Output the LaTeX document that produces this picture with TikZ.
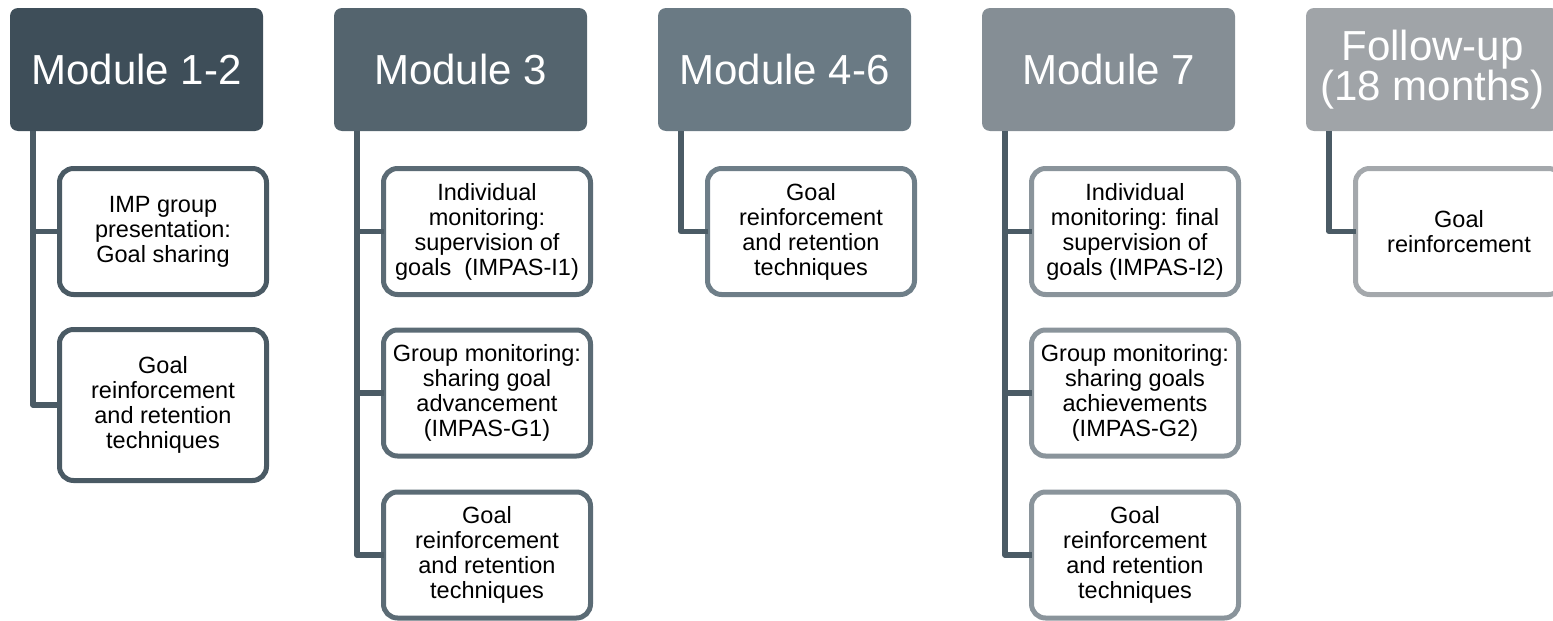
\documentclass[tikz,border=0pt]{standalone}
\usepackage{fontspec}
\setmainfont{Liberation Sans}
\begin{document}
\begin{tikzpicture}[x=1pt,y=-1pt,
  head/.style={rounded corners=8pt, inner sep=0pt, outer sep=0pt,
    minimum width=253pt, minimum height=123pt, text=white, align=center,
    font=\fontsize{42}{40}\selectfont},
  sub/.style={draw, fill=white, line width=5pt, rounded corners=14pt,
    inner sep=0pt, outer sep=0pt, minimum width=207pt, minimum height=126pt,
    text=black, align=center, font=\fontsize{23.5}{25}\selectfont},
  link/.style={draw=linkc, line width=5.5pt, line join=round}]
\definecolor{hA}{HTML}{3E4E59}
\definecolor{hB}{HTML}{54646E}
\definecolor{hC}{HTML}{6A7A84}
\definecolor{hD}{HTML}{858E95}
\definecolor{hE}{HTML}{A0A4A8}
\definecolor{bA}{HTML}{4A5A64}
\definecolor{bB}{HTML}{5B6B75}
\definecolor{bC}{HTML}{6E7E88}
\definecolor{bD}{HTML}{8A949B}
\definecolor{bE}{HTML}{A4A8AC}
\definecolor{linkc}{HTML}{4B5B65}
\useasboundingbox (0,0) rectangle (1553,621);
\clip (0,0) rectangle (1553,621);

% Module 1-2
\node[head, fill=hA] (h1) at (136.5,69.5) {Module 1-2};
\node[sub, draw=bA] (c11) at (163,231.5) {IMP group\\presentation:\\Goal sharing};
\node[sub, draw=bA, minimum height=151pt] (c12) at (163,405) {Goal\\reinforcement\\and retention\\techniques};
\draw[link] ([xshift=23pt]h1.south west) |- (c12.west);
\draw[link] ([xshift=23pt]h1.south west |- c11.west) -- (c11.west);

% Module 3
\node[head, fill=hB] (h2) at (460.5,69.5) {Module 3};
\node[sub, draw=bB] (c21) at (487,231.5) {Individual\\monitoring:\\supervision of\\goals\ \ (IMPAS-I1)};
\node[sub, draw=bB] (c22) at (487,393) {Group monitoring:\\sharing goal\\advancement\\(IMPAS-G1)};
\node[sub, draw=bB] (c23) at (487,555) {Goal\\reinforcement\\and retention\\techniques};
\draw[link] ([xshift=23pt]h2.south west) |- (c23.west);
\draw[link] ([xshift=23pt]h2.south west |- c21.west) -- (c21.west);
\draw[link] ([xshift=23pt]h2.south west |- c22.west) -- (c22.west);

% Module 4-6
\node[head, fill=hC] (h3) at (784.5,69.5) {Module 4-6};
\node[sub, draw=bC] (c31) at (811,231.5) {Goal\\reinforcement\\and retention\\techniques};
\draw[link] ([xshift=23pt]h3.south west) |- (c31.west);

% Module 7
\node[head, fill=hD] (h4) at (1108.5,69.5) {Module 7};
\node[sub, draw=bD] (c41) at (1135,231.5) {Individual\\monitoring: final\\supervision of\\goals (IMPAS-I2)};
\node[sub, draw=bD] (c42) at (1135,393) {Group monitoring:\\sharing goals\\achievements\\(IMPAS-G2)};
\node[sub, draw=bD] (c43) at (1135,555) {Goal\\reinforcement\\and retention\\techniques};
\draw[link] ([xshift=23pt]h4.south west) |- (c43.west);
\draw[link] ([xshift=23pt]h4.south west |- c41.west) -- (c41.west);
\draw[link] ([xshift=23pt]h4.south west |- c42.west) -- (c42.west);

% Follow-up
\node[head, fill=hE] (h5) at (1432.5,69.5) {Follow-up\\(18 months)};
\node[sub, draw=bE] (c51) at (1459,231.5) {Goal\\reinforcement};
\draw[link] ([xshift=23pt]h5.south west) |- (c51.west);
\end{tikzpicture}
\end{document}
